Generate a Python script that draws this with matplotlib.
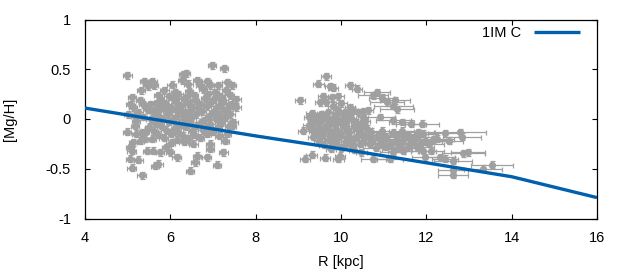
#!/usr/bin/env python3
"""
Radial [Mg/H] gradient: observed stars with error bars and the 1IM C model.
"""

import matplotlib
matplotlib.use("Agg")
import matplotlib.pyplot as plt

# --- data ---------------------------------------------------------------

# model curve
MODEL_R = [4, 6, 8, 10, 12, 14, 16]
MODEL_MGH = [0.11, -0.03, -0.17, -0.30, -0.44, -0.58, -0.79]
MODEL_LABEL = "1IM C"

# inner stars (R ~ 5-7.5 kpc), small radial errors
R_A = [
    4.99, 6.98, 7.26, 6.37, 6.30, 5.39, 5.58, 5.62, 5.47, 5.31,
    6.03, 6.27, 6.42, 6.62, 6.85, 6.70, 6.93, 7.12, 7.32, 7.44,
    5.05, 5.13, 5.29, 5.37, 5.52, 5.01, 5.17, 5.25, 5.60, 5.72, 5.91, 6.15,
    4.98, 5.17, 5.33, 5.44, 5.28, 5.13, 5.05, 5.09,
    5.45, 5.60, 5.76, 5.91, 5.99,
    5.05, 5.25, 5.09, 5.33, 5.64, 5.72, 6.15, 6.62, 6.58, 6.85, 7.09, 7.24, 6.46,
    6.93, 6.93, 7.32, 7.28, 7.55, 7.55, 7.44, 7.48,
    5.86, 6.11, 6.44, 6.77, 7.04, 7.31,
    5.71, 5.96, 6.19, 6.36, 6.56, 6.89, 7.16, 7.39,
    5.79, 6.06, 6.31, 6.58, 6.81, 7.02, 7.24,
    5.66, 5.91, 6.14, 6.41, 6.69, 6.96, 7.21, 7.43,
    5.76, 6.01, 6.24, 6.51, 6.66, 6.86, 7.09, 7.36,
    5.56, 6.29, 6.46, 6.74, 7.01, 7.26,
    5.69, 5.94, 6.16, 6.39, 6.61, 6.91, 7.14, 7.41,
    5.54, 5.81, 6.04, 6.31, 6.49, 6.79, 7.06, 7.29,
    5.64, 5.96, 6.21, 6.44, 6.71, 6.94, 7.19,
    5.51, 5.79, 6.11, 6.34, 6.59, 6.84, 7.11, 7.37,
    5.61, 5.89, 6.19, 6.51, 6.76, 7.01,
    5.71, 6.01, 6.29, 6.56, 6.86, 7.14,
    5.56, 5.84, 6.16, 6.41, 6.69,
    6.01, 6.31, 6.54,
    5.10, 5.20, 5.35, 5.40, 5.45, 5.20,
]
MGH_A = [
    0.44, 0.54, 0.51, 0.46, 0.45, 0.38, 0.38, 0.34, 0.33, 0.29,
    0.345, 0.39, 0.355, 0.39, 0.38, 0.34, 0.34, 0.34, 0.37, 0.34,
    0.15, 0.12, 0.19, 0.15, 0.15, 0.05, 0.035, 0.07, 0.085, 0.085, 0.10, 0.085,
    -0.13, -0.066, -0.133, -0.116, -0.217, -0.234, -0.285, -0.318,
    -0.318, -0.318, -0.335, -0.285, -0.335,
    -0.40, -0.41, -0.49, -0.565, -0.47, -0.45, -0.385, -0.37, -0.435, -0.385, -0.46, -0.335, -0.52,
    -0.30, -0.25, -0.15, -0.22, 0.12, 0.20, -0.066, -0.032,
    0.29, 0.27, 0.28, 0.30, 0.27, 0.29,
    0.24, 0.23, 0.25, 0.22, 0.24, 0.25, 0.23, 0.24,
    0.19, 0.21, 0.20, 0.19, 0.21, 0.20, 0.19,
    0.16, 0.15, 0.17, 0.16, 0.15, 0.17, 0.16, 0.15,
    0.12, 0.11, 0.13, 0.12, 0.11, 0.13, 0.12, 0.11,
    0.08, 0.07, 0.09, 0.08, 0.07, 0.09,
    0.04, 0.05, 0.03, 0.04, 0.05, 0.03, 0.04, 0.05,
    0.00, 0.01, -0.01, 0.00, 0.01, -0.01, 0.00, 0.01,
    -0.04, -0.03, -0.05, -0.04, -0.03, -0.05, -0.04,
    -0.08, -0.07, -0.09, -0.08, -0.07, -0.09, -0.08, -0.07,
    -0.12, -0.11, -0.13, -0.12, -0.11, -0.13,
    -0.16, -0.15, -0.17, -0.16, -0.15, -0.17,
    -0.20, -0.19, -0.21, -0.20, -0.19,
    -0.24, -0.23, -0.25,
    0.22, -0.02, 0.02, -0.20, 0.10, -0.15,
]
R_ERR_A = 0.1

# outer stars (R ~ 9-10.7 kpc)
R_B = [
    9.65, 9.47, 9.74, 9.82, 10.21, 10.38, 9.04,
    9.58, 9.78, 9.94, 9.51, 9.66, 9.82, 10.01, 9.94, 10.21, 10.29, 10.52, 10.64, 10.09,
    9.16, 9.31, 9.62, 9.94, 9.98, 10.48, 9.12,
    9.31, 9.52, 9.69, 9.91, 10.12, 10.41,
    9.26, 9.44, 9.66, 9.84, 10.06, 10.24, 10.51,
    9.36, 9.54, 9.76, 9.96, 10.14, 10.36, 10.56,
    9.24, 9.46, 9.64, 9.86, 10.04, 10.31, 10.49,
    9.29, 9.51, 9.71, 9.89, 10.11, 10.39, 10.61,
    9.41, 9.59, 9.81, 10.01, 10.19, 10.46,
    9.34, 9.56, 9.74, 9.96, 10.16, 10.34, 10.54,
    9.49, 9.71, 9.89, 10.11, 10.29, 10.51,
    9.61, 9.84, 10.06, 10.24, 10.44,
    9.76, 10.01, 10.31,
]
MGH_B = [
    0.43, 0.355, 0.33, 0.315, 0.34, 0.305, 0.19,
    0.227, 0.22, 0.227, 0.17, 0.17, 0.135, 0.16, 0.086, 0.12, 0.086, 0.08, 0.086, 0.07,
    -0.40, -0.36, -0.39, -0.40, -0.37, -0.335, -0.116,
    0.06, 0.05, 0.07, 0.06, 0.05, 0.07,
    0.02, 0.03, 0.01, 0.02, 0.03, 0.01, 0.02,
    -0.02, -0.01, -0.03, -0.02, -0.01, -0.03, -0.02,
    -0.06, -0.05, -0.07, -0.06, -0.05, -0.07, -0.06,
    -0.10, -0.09, -0.11, -0.10, -0.09, -0.11, -0.10,
    -0.14, -0.13, -0.15, -0.14, -0.13, -0.15,
    -0.18, -0.17, -0.19, -0.18, -0.17, -0.19, -0.18,
    -0.22, -0.21, -0.23, -0.22, -0.21, -0.23,
    -0.26, -0.25, -0.27, -0.26, -0.25,
    -0.30, -0.29, -0.31,
]
R_ERR_B = 0.12

# outermost stars, wide radial errors
R_C = [
    10.84, 10.76, 10.95, 11.07, 11.27, 11.23, 11.31,
    10.91, 11.23, 11.42, 11.65, 11.89,
    11.42, 11.81, 11.93, 12.79, 12.83, 12.24, 12.44, 12.52,
    10.76, 11.15, 11.97, 12.32, 12.44,
    12.63, 12.87, 12.98, 12.63, 12.63, 13.33, 13.54, 11.93, 12.12,
    10.71, 10.96, 11.21,
    10.66, 10.86, 11.06, 11.31, 11.56, 11.76,
    10.76, 11.01, 11.26, 11.46, 11.71, 11.96, 12.16,
    10.69, 10.91, 11.14, 11.41, 11.61, 11.86, 12.06,
    10.81, 11.04, 11.31, 11.54, 11.79,
    11.21, 11.46,
]
MGH_C = [
    0.27, 0.24, 0.215, 0.17, 0.187, 0.135, 0.10,
    0.02, -0.015, -0.03, -0.05, -0.05,
    -0.116, -0.133, -0.15, -0.133, -0.18, -0.20, -0.145, -0.22,
    -0.40, -0.40, -0.385, -0.385, -0.40,
    -0.42, -0.345, -0.335, -0.51, -0.56, -0.50, -0.46, -0.32, -0.32,
    -0.13, -0.12, -0.14,
    -0.17, -0.16, -0.18, -0.17, -0.16, -0.18,
    -0.21, -0.20, -0.22, -0.21, -0.20, -0.22, -0.21,
    -0.25, -0.24, -0.26, -0.25, -0.24, -0.26, -0.25,
    -0.29, -0.28, -0.30, -0.29, -0.28,
    -0.33, -0.32,
]
R_ERR_C = [
    0.3, 0.35, 0.3, 0.4, 0.35, 0.45, 0.4,
    0.35, 0.4, 0.3, 0.35, 0.4,
    0.3, 0.4, 0.35, 0.6, 0.45, 0.4, 0.4, 0.35,
    0.3, 0.3, 0.3, 0.35, 0.3,
    0.45, 0.5, 0.4, 0.35, 0.35, 0.45, 0.5, 0.3, 0.3,
    0.25, 0.3, 0.35,
    0.2, 0.3, 0.25, 0.35, 0.3, 0.4,
    0.25, 0.3, 0.2, 0.35, 0.3, 0.4, 0.3,
    0.2, 0.3, 0.25, 0.35, 0.3, 0.25, 0.35,
    0.3, 0.25, 0.35, 0.3, 0.4,
    0.3, 0.35,
]

MGH_ERR = 0.035

X_TICKS = [4, 6, 8, 10, 12, 14, 16]
Y_TICKS = [-1, -0.5, 0, 0.5, 1]
Y_TICK_LABELS = ["-1", "-0.5", "0", "0.5", "1"]

GREY = "#a0a0a0"
BLUE = "#0060ad"


def main():
    plt.rcParams["font.family"] = ["Liberation Sans", "DejaVu Sans"]
    plt.rcParams["axes.unicode_minus"] = False

    fig = plt.figure(figsize=(6.3, 2.8), dpi=100)
    ax = fig.add_axes([85 / 630, 1 - 218.5 / 280, 512 / 630, 199 / 280])

    style = dict(fmt="o", ms=4.2, color=GREY, ecolor=GREY,
                 elinewidth=0.9, capsize=1.8, capthick=0.9, zorder=2)
    ax.errorbar(R_A, MGH_A, xerr=R_ERR_A, yerr=MGH_ERR, **style)
    ax.errorbar(R_B, MGH_B, xerr=R_ERR_B, yerr=MGH_ERR, **style)
    ax.errorbar(R_C, MGH_C, xerr=R_ERR_C, yerr=MGH_ERR, **style)

    ax.plot(MODEL_R, MODEL_MGH, color=BLUE, lw=2.4, label=MODEL_LABEL,
            zorder=3, solid_capstyle="butt")

    ax.set_xlim(4, 16)
    ax.set_ylim(-1, 1)
    ax.set_xticks(X_TICKS)
    ax.set_yticks(Y_TICKS)
    ax.set_yticklabels(Y_TICK_LABELS)

    ax.tick_params(direction="in", top=True, right=True, length=3.6,
                   width=0.8, labelsize=10.5, colors="black")
    ax.tick_params(axis="x", pad=9)
    ax.tick_params(axis="y", pad=10)
    for sp in ax.spines.values():
        sp.set_linewidth(0.9)

    ax.set_xlabel("R [kpc]", fontsize=10.5, labelpad=7)
    ax.set_ylabel("[Mg/H]", fontsize=10.5, labelpad=20.5)

    # legend: text to the left of the line sample, gnuplot style
    ax.legend(loc="upper right", bbox_to_anchor=(0.986, 1.0166),
              frameon=False, markerfirst=False,
              fontsize=10.5, handlelength=3.1, handletextpad=0.9,
              borderaxespad=0.3, borderpad=0.4)

    fig.savefig("out.png", dpi=100)
    plt.close(fig)


if __name__ == "__main__":
    main()
